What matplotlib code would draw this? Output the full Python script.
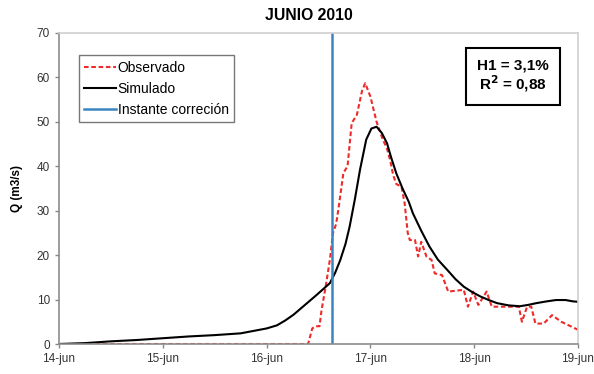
import matplotlib
matplotlib.use("Agg")
import matplotlib.pyplot as plt

plt.rcParams['font.family'] = ['Liberation Sans', 'DejaVu Sans']

# time in days since 14-jun 00:00, discharge in m3/s
obs_t = [0.0, 2.40, 2.44, 2.47, 2.51, 2.53, 2.57, 2.61, 2.64, 2.67, 2.69, 2.74, 2.78,
         2.82, 2.87, 2.92, 2.95, 3.00, 3.06, 3.12, 3.16, 3.19, 3.22, 3.25, 3.30, 3.33,
         3.36, 3.38, 3.43, 3.46, 3.49, 3.54, 3.59, 3.62, 3.69, 3.75, 3.90, 3.94, 3.99,
         4.04, 4.12, 4.17, 4.43, 4.46, 4.51, 4.55, 4.59, 4.67, 4.75, 4.84, 5.0]
obs_q = [0.0, 0.0, 3.5, 4.0, 4.0, 7.7, 13.0, 19.0, 25.0, 27.0, 30.0, 38.5, 40.0,
         49.7, 51.6, 57.0, 58.7, 55.7, 50.0, 46.0, 44.0, 41.4, 38.0, 36.0, 35.4, 31.7,
         25.0, 23.4, 23.4, 19.7, 23.0, 19.7, 18.9, 15.9, 15.5, 11.8, 12.2, 8.4, 11.8,
         8.8, 11.8, 8.4, 8.4, 5.0, 8.4, 8.4, 4.6, 4.6, 6.5, 5.0, 3.2]

sim_t = [0.0, 0.25, 0.5, 0.75, 1.0, 1.25, 1.5, 1.75, 2.0, 2.1, 2.18, 2.26, 2.35, 2.48,
         2.61, 2.66, 2.71, 2.76, 2.80, 2.85, 2.90, 2.96, 3.01, 3.06, 3.11, 3.16, 3.20,
         3.25, 3.31, 3.37, 3.41, 3.49, 3.57, 3.65, 3.74, 3.82, 3.90, 3.98, 4.06, 4.14,
         4.22, 4.33, 4.44, 4.52, 4.60, 4.70, 4.79, 4.88, 4.95, 5.0]
sim_q = [0.0, 0.2, 0.6, 0.9, 1.3, 1.7, 2.0, 2.4, 3.5, 4.2, 5.3, 6.6, 8.4, 11.0,
         13.7, 16.0, 18.9, 22.5, 26.4, 32.5, 39.2, 46.0, 48.5, 48.9, 47.5, 45.2, 42.0,
         38.4, 35.0, 32.0, 29.4, 25.5, 21.9, 19.0, 16.7, 14.6, 12.9, 11.7, 10.7, 9.9,
         9.2, 8.7, 8.5, 8.8, 9.2, 9.6, 9.9, 9.9, 9.6, 9.5]

correction_t = 2.627
day_labels = ['14-jun', '15-jun', '16-jun', '17-jun', '18-jun', '19-jun']
stats_text = 'H1 = 3,1%\nR$^\\mathbf{2}$ = 0,88'

fig = plt.figure(figsize=(5.94, 3.74), dpi=100)
ax = fig.add_axes([0.0993, 0.0802, 0.8737, 0.8316])

ax.plot(obs_t, obs_q, color='#ee2a2a', lw=1.5, ls=(0, (2.2, 1.3)), label='Observado')
ax.plot(sim_t, sim_q, color='black', lw=1.5, label='Simulado')
ax.axvline(correction_t, color='#3b86c2', lw=1.8, label='Instante correción')

ax.set_xlim(0, 5)
ax.set_ylim(0, 70)
ax.set_xticks(range(len(day_labels)))
ax.set_xticklabels(day_labels)
ax.set_yticks(range(0, 71, 10))
ax.tick_params(labelsize=8.5, labelcolor='#333333', color='#888888', length=3, width=1)
for side in ['left', 'bottom']:
    ax.spines[side].set_color('#8c8c8c')
    ax.spines[side].set_linewidth(1.2)
for side in ['top', 'right']:
    ax.spines[side].set_color('#d0d0d0')
    ax.spines[side].set_linewidth(1.2)

ax.set_ylabel('Q (m3/s)', fontsize=8.5, fontweight='bold', labelpad=10)

leg = ax.legend(loc='upper left', bbox_to_anchor=(0.038, 0.929), fontsize=10,
                frameon=True, fancybox=False, borderpad=0.4, labelspacing=0.5,
                handlelength=2.3, handletextpad=0.1, borderaxespad=0)
leg.get_frame().set_edgecolor('#555555')
leg.get_frame().set_linewidth(1.0)

ax.text(0.875, 0.862, stats_text, transform=ax.transAxes, ha='center', va='center',
        fontsize=11, fontweight='bold', linespacing=1.05,
        bbox=dict(boxstyle='square,pad=0.75', fc='white', ec='black', lw=1.5))

fig.text(309 / 594, 1 - 15 / 374, 'JUNIO 2010', ha='center', va='center',
         fontsize=11.3, fontweight='bold')

fig.savefig('out.png', dpi=100)
